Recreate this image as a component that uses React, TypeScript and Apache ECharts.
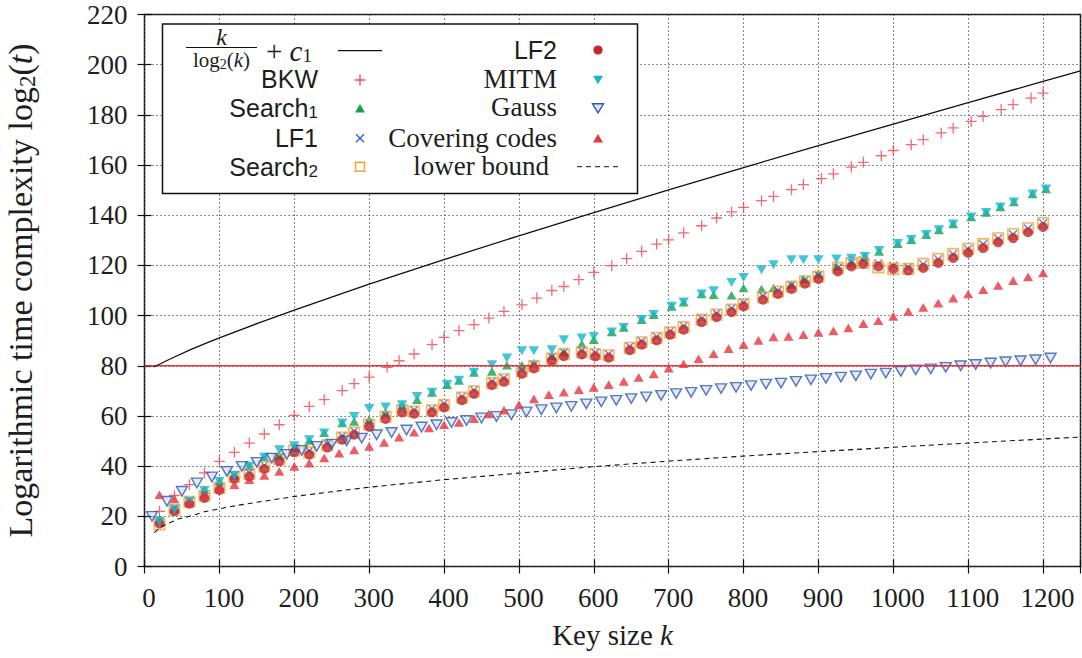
import React, { useEffect, useRef } from "react";
import * as echarts from "echarts";

// ---------------- data ----------------
const K_GRID = [20, 40, 60, 80, 100, 120, 140, 160, 180, 200,
  220, 240, 260, 280, 300, 320, 340, 360, 380, 400,
  420, 440, 460, 480, 500, 520, 540, 560, 580, 600,
  620, 640, 660, 680, 700, 720, 740, 760, 780, 800,
  820, 840, 860, 880, 900, 920, 940, 960, 980, 1000,
  1020, 1040, 1060, 1080, 1100, 1120, 1140, 1160, 1180, 1200];

const K_BKW = [20, 40, 60, 80, 100, 120, 140, 160, 180, 200,
  220, 240, 264, 280, 300, 324, 340, 360, 384, 400,
  420, 440, 460, 480, 504, 524, 544, 560, 580, 600,
  624, 644, 664, 684, 700, 720, 744, 764, 784, 800,
  824, 840, 864, 880, 904, 920, 944, 960, 984, 1000,
  1024, 1040, 1064, 1080, 1104, 1120, 1144, 1160, 1184, 1200];

const K_LF = [20, 40, 60, 80, 100, 120, 140, 160, 180, 200,
  220, 244, 264, 280, 300, 322, 344, 360, 384, 400,
  424, 440, 464, 480, 504, 520, 544, 560, 584, 602,
  620, 648, 664, 684, 702, 720, 744, 764, 784, 800,
  826, 846, 864, 882, 900, 926, 944, 960, 980, 1000,
  1020, 1040, 1060, 1080, 1100, 1120, 1140, 1160, 1180, 1200];

const K_MITM = [20, 40, 60, 80, 100, 120, 140, 160, 180, 200,
  220, 240, 264, 280, 300, 322, 344, 364, 384, 404,
  420, 440, 464, 484, 504, 520, 544, 560, 584, 600,
  624, 640, 664, 680, 704, 720, 744, 760, 784, 800,
  824, 840, 864, 880, 900, 924, 944, 962, 981, 1006,
  1024, 1044, 1061, 1080, 1104, 1124, 1143, 1161, 1186, 1204];

const K_GAUSS = [10, 30, 50, 70, 90, 110, 130, 150, 170, 190,
  210, 230, 250, 270, 290, 310, 330, 350, 370, 390,
  410, 430, 450, 470, 490, 510, 530, 550, 570, 590,
  610, 630, 650, 670, 690, 710, 730, 750, 770, 790,
  810, 830, 850, 870, 890, 910, 930, 950, 970, 990,
  1010, 1030, 1050, 1070, 1090, 1110, 1130, 1150, 1170, 1190, 1210];

const BKW = [22.0, 28.3, 32.6, 37.3, 41.9, 45.5, 49.2, 52.8, 56.5, 60.2,
  63.8, 66.5, 70.1, 72.9, 75.5, 79.4, 82.0, 84.7, 88.4, 91.3,
  94.0, 96.4, 99.0, 101.7, 104.3, 107.0, 110.0, 111.6, 114.3, 117.2,
  119.9, 122.7, 125.6, 128.5, 130.2, 133.0, 135.8, 138.9, 141.3, 143.1,
  145.8, 147.5, 150.2, 152.2, 154.6, 156.5, 159.2, 161.1, 163.7, 165.8,
  168.1, 170.1, 172.8, 174.8, 177.4, 179.4, 182.1, 184.1, 186.7, 188.7];

const SEARCH1 = [18.9, 23.0, 25.9, 30.5, 33.9, 36.3, 40.0, 43.5, 44.4, 47.4,
  50.3, 53.3, 57.2, 57.8, 58.5, 61.4, 64.3, 66.5, 69.4, 72.5,
  74.2, 77.4, 77.8, 80.2, 80.2, 81.1, 84.0, 85.3, 88.7, 90.4,
  93.5, 95.3, 98.4, 100.4, 103.7, 105.4, 108.6, 108.3, 108.1, 111.0,
  110.6, 111.0, 112.3, 114.6, 116.7, 119.6, 121.0, 123.6, 125.6, 128.7,
  130.3, 132.3, 134.2, 136.5, 139.3, 141.1, 143.3, 145.3, 148.5, 150.5];

const LF1 = [17.6, 23.3, 26.4, 28.8, 32.0, 36.4, 37.4, 40.4, 43.4, 47.0,
  46.1, 48.9, 52.0, 54.0, 57.2, 60.3, 62.9, 62.4, 62.9, 64.9,
  67.8, 70.3, 73.8, 75.1, 78.3, 80.4, 83.5, 85.3, 86.0, 85.2,
  84.7, 87.7, 89.9, 91.6, 93.9, 95.9, 98.9, 100.9, 102.9, 105.2,
  107.8, 110.1, 112.1, 114.2, 116.1, 119.1, 121.1, 122.0, 120.8, 119.9,
  119.3, 120.5, 122.5, 124.5, 126.5, 128.4, 130.7, 132.4, 134.7, 136.8];

const SEARCH2 = [16.8, 22.6, 25.8, 28.2, 31.4, 35.8, 36.9, 39.9, 42.8, 46.3,
  45.5, 48.3, 51.4, 53.4, 56.6, 59.7, 62.3, 61.8, 62.3, 64.3,
  67.3, 69.8, 73.2, 74.6, 77.8, 79.9, 82.9, 84.8, 85.4, 84.7,
  84.2, 87.2, 89.4, 91.1, 93.3, 95.4, 98.4, 100.4, 102.4, 104.6,
  107.3, 109.6, 111.6, 113.7, 115.6, 119.0, 121.0, 121.0, 119.2, 118.6,
  118.6, 120.6, 122.6, 124.6, 126.6, 128.5, 130.8, 132.5, 134.8, 136.9];

const LF2 = [17.1, 22.1, 25.0, 27.3, 30.5, 34.9, 35.9, 38.9, 41.9, 45.5,
  44.6, 47.4, 50.5, 52.5, 55.7, 58.8, 61.4, 60.9, 61.4, 63.4,
  66.3, 68.8, 72.3, 73.6, 76.8, 78.9, 82.0, 83.8, 84.5, 83.7,
  83.2, 86.2, 88.4, 90.1, 92.4, 94.4, 97.4, 99.4, 101.4, 103.7,
  106.3, 108.6, 110.6, 112.7, 114.6, 117.6, 119.6, 120.7, 119.6, 118.7,
  118.0, 119.0, 121.0, 123.0, 125.0, 126.9, 129.2, 130.9, 133.2, 135.3];

const MITM = [18.0, 22.6, 25.9, 30.3, 33.9, 36.3, 40.0, 43.5, 46.5, 48.1,
  50.5, 53.2, 57.2, 59.8, 63.0, 63.6, 64.5, 67.8, 69.4, 72.5,
  74.2, 77.4, 80.4, 83.1, 86.0, 86.0, 86.4, 90.4, 91.1, 91.7,
  93.5, 95.3, 98.4, 100.4, 103.7, 105.4, 108.6, 109.9, 113.2, 115.2,
  118.3, 120.3, 122.3, 122.3, 122.3, 122.6, 122.9, 123.6, 125.9, 128.7,
  130.3, 132.3, 134.2, 136.5, 139.3, 141.1, 143.3, 145.3, 148.5, 150.5];

const GAUSS = [20.0, 26.0, 30.0, 33.3, 35.7, 37.9, 39.9, 41.5, 43.2, 44.7,
  46.3, 47.9, 48.8, 50.1, 51.2, 52.5, 53.4, 54.4, 55.6, 56.5,
  57.4, 58.2, 59.2, 59.8, 60.5, 61.6, 62.5, 63.2, 63.8, 64.8,
  65.6, 66.2, 66.9, 67.6, 68.2, 68.9, 69.4, 70.2, 70.9, 71.4,
  72.1, 72.7, 73.1, 73.8, 74.4, 75.0, 75.5, 76.0, 76.7, 77.1,
  77.8, 78.4, 78.8, 79.4, 80.0, 80.5, 81.1, 81.6, 82.0, 82.4,
  83.1];

const COVERING = [28.6, 26.9, 25.5, 28.5, 31.0, 32.6, 34.6, 36.3, 37.9, 39.9,
  41.2, 43.3, 45.2, 46.5, 47.9, 49.5, 51.6, 53.5, 55.2, 56.5,
  57.4, 58.9, 60.8, 62.3, 64.5, 66.8, 68.5, 69.5, 70.5, 71.4,
  72.5, 73.8, 75.4, 76.8, 79.1, 80.8, 82.8, 84.8, 86.8, 88.4,
  90.1, 91.5, 91.7, 92.4, 93.3, 93.9, 95.1, 96.8, 98.0, 99.7,
  101.7, 103.3, 105.0, 107.0, 108.6, 110.3, 112.0, 113.9, 115.4, 117.0];

// k/log2(k) + c1 curve
const UPPER_K = [12, 20, 30, 40, 60, 80, 100, 150, 200, 250, 300, 400, 500, 600, 700, 800, 900, 1000, 1100, 1200, 1250];
const UPPER_Y = [79.5, 80.6, 82.1, 83.5, 86.2, 88.7, 91.1, 96.8, 102.2, 107.4, 112.5, 122.3, 131.8, 141.0, 150.1, 159.0, 167.7, 176.3, 184.9, 193.3, 197.5];

// lower bound curve
const LOWER_K = [13, 20, 30, 45, 60, 80, 100, 125, 150, 200, 250, 300, 400, 500, 600, 700, 800, 900, 1000, 1100, 1200, 1250];
const LOWER_Y = [13.5, 15.3, 17.0, 18.9, 20.0, 21.8, 23.0, 24.4, 25.6, 27.9, 29.8, 31.6, 34.6, 37.2, 39.8, 42.0, 44.0, 45.8, 47.5, 49.2, 50.8, 51.6];

// horizontal reference line at 80
const REF_K = [0, 1250];
const REF_Y = [80, 80];

const X_MIN = 0, X_MAX = 1250, X_STEP = 100;
const Y_MIN = 0, Y_MAX = 220, Y_STEP = 20;

// ---------------- styles ----------------
const SERIF = '"Liberation Serif", "Times New Roman", serif';
const SANS = '"Liberation Sans", Arial, sans-serif';
const TEXT = "#1e1e1e";

const C_BKW = "#f2434b";
const C_GREEN = "#17a24a";
const C_BLUE_X = "#2f5fc0";
const C_ORANGE = "#f5a43a";
const C_LF2 = "#c1272d";
const C_CYAN = "#17b6cc";
const C_GAUSS = "#2a58b5";
const C_CC = "#e9333c";
const C_REF = "#e9333c";

const PLUS = "path://M0,5L10,5M5,0L5,10";
const CROSS = "path://M0,0L10,10M10,0L0,10";
const SQUARE = "path://M0,0L10,0L10,10L0,10Z";
const TRI_DOWN = "path://M0,0L10,0L5,8.66Z";
const TRI_UP = "path://M5,0L10,8.66L0,8.66Z";

const zip = (xs: number[], ys: number[]) => xs.map((x, i) => [x, ys[i]]);

function txt(text: string, x: number, y: number, o: any = {}) {
  return {
    type: "text",
    z: 102,
    silent: true,
    style: {
      text,
      x,
      y,
      fill: TEXT,
      fontFamily: o.family || SERIF,
      fontSize: o.size || 27,
      fontStyle: o.italic ? "italic" : "normal",
      align: o.align || "right",
      textAlign: o.align || "right",
      verticalAlign: "middle",
      textVerticalAlign: "middle",
      rich: o.rich,
    },
  };
}

function seg(x1: number, y1: number, x2: number, y2: number, stroke: string, lw: number, dash?: number[]) {
  return {
    type: "line",
    z: 102,
    silent: true,
    shape: { x1, y1, x2, y2 },
    style: { stroke, lineWidth: lw, lineDash: dash },
  };
}

function poly(points: number[][], fill: string, stroke?: string, lw?: number) {
  return {
    type: "polygon",
    z: 102,
    silent: true,
    shape: { points },
    style: { fill, stroke: stroke || null, lineWidth: lw || 0 },
  };
}

const LX = 360;
const RX = 598;
const ROWS = [50, 80, 108.3, 138.3, 166.7];

const subRichSans = {
  a: { fontFamily: SANS, fontSize: 25, lineHeight: 27, fill: TEXT },
  s: { fontFamily: SANS, fontSize: 17, lineHeight: 13, verticalAlign: "bottom", fill: TEXT },
};

const legendElements: any[] = [
  {
    type: "rect",
    z: 100,
    silent: true,
    shape: { x: 162.5, y: 24, width: 475, height: 169.5 },
    style: { fill: "#ffffff", stroke: "#111", lineWidth: 1.5 },
  },
  // fraction k / log2(k) + c1
  txt("k", 221.5, 37, { italic: true, size: 24, align: "center" }),
  seg(186, 47.5, 257, 47.5, "#111", 1),
  txt("{a|log}{s|2}{a|(}{i|k}{a|)}", 221.5, 60, {
    align: "center",
    rich: {
      a: { fontFamily: SERIF, fontSize: 21, lineHeight: 22, fill: TEXT },
      i: { fontFamily: SERIF, fontSize: 21, lineHeight: 22, fontStyle: "italic", fill: TEXT },
      s: { fontFamily: SERIF, fontSize: 14, lineHeight: 10, verticalAlign: "bottom", fill: TEXT },
    },
  }),
  txt("{a|+ }{i|c}{s|1}", 266, 51, {
    align: "left",
    rich: {
      a: { fontFamily: SERIF, fontSize: 29, lineHeight: 27, fill: TEXT },
      i: { fontFamily: SERIF, fontSize: 29, lineHeight: 27, fontStyle: "italic", fill: TEXT },
      s: { fontFamily: SERIF, fontSize: 19, lineHeight: 13, verticalAlign: "bottom", fill: TEXT },
    },
  }),
  seg(338, 50.7, 382, 50.7, "#111", 1.2),
  // left column labels
  txt("BKW", 318, 79, { family: SANS, size: 25 }),
  txt("{a|Search}{s|1}", 318, 107.5, { family: SANS, size: 25, rich: subRichSans }),
  txt("LF1", 318, 137.5, { family: SANS, size: 25 }),
  txt("{a|Search}{s|2}", 318, 166.5, { family: SANS, size: 25, rich: subRichSans }),
  // left column markers
  seg(LX - 5.5, ROWS[1], LX + 5.5, ROWS[1], C_BKW, 1.3),
  seg(LX, ROWS[1] - 5.5, LX, ROWS[1] + 5.5, C_BKW, 1.3),
  poly([[LX - 5, ROWS[2] + 4.3], [LX + 5, ROWS[2] + 4.3], [LX, ROWS[2] - 4.3]], C_GREEN),
  seg(LX - 4, ROWS[3] - 4, LX + 4, ROWS[3] + 4, C_BLUE_X, 1.3),
  seg(LX + 4, ROWS[3] - 4, LX - 4, ROWS[3] + 4, C_BLUE_X, 1.3),
  {
    type: "rect",
    z: 102,
    silent: true,
    shape: { x: LX - 4.5, y: ROWS[4] - 4.5, width: 9, height: 9 },
    style: { fill: "none", stroke: C_ORANGE, lineWidth: 1.5 },
  },
  // right column labels
  txt("LF2", 557, 50.3, { family: SANS, size: 25 }),
  txt("MITM", 557, 78.5, {}),
  txt("Gauss", 557, 107.3, {}),
  txt("Covering codes", 557, 137.5, {}),
  txt("lower bound", 549, 166, {}),
  // right column markers
  { type: "circle", z: 102, silent: true, shape: { cx: RX, cy: ROWS[0], r: 4.6 }, style: { fill: C_LF2 } },
  poly([[RX - 5, ROWS[1] - 4.3], [RX + 5, ROWS[1] - 4.3], [RX, ROWS[1] + 4.3]], C_CYAN),
  poly([[RX - 5.5, ROWS[2] - 4.5], [RX + 5.5, ROWS[2] - 4.5], [RX, ROWS[2] + 4.5]], "rgba(120,150,220,0.25)", C_GAUSS, 1.4),
  poly([[RX - 5, ROWS[3] + 4.3], [RX + 5, ROWS[3] + 4.3], [RX, ROWS[3] - 4.3]], C_CC),
  seg(577, ROWS[4], 620, ROWS[4], "#111", 1, [5, 4]),
];

function scatter(name: string, data: number[][], symbol: string, size: any, itemStyle: any) {
  return {
    type: "scatter",
    name,
    data,
    symbol,
    symbolSize: size,
    itemStyle,
    silent: true,
  };
}

export default function App() {
  const ref = useRef<HTMLDivElement>(null);

  useEffect(() => {
    document.body.style.margin = "0";
    const chart = echarts.init(ref.current as HTMLDivElement, null, { renderer: "svg" });

    const tickStyle = { color: "#111", width: 1.2 };
    const gridLine = { show: true, lineStyle: { color: "#444", width: 1.1, type: [1.2, 2.8] } };

    const option: any = {
      animation: false,
      backgroundColor: "#ffffff",
      grid: {
        left: 144.5,
        right: 1.5,
        top: 14.5,
        bottom: 91.5,
        show: true,
        borderColor: "#111",
        borderWidth: 1.5,
        backgroundColor: "transparent",
        containLabel: false,
        outerBoundsMode: "none",
      },
      xAxis: [
        {
          type: "value",
          min: X_MIN,
          max: X_MAX,
          interval: X_STEP,
          position: "bottom",
          axisLine: { show: false },
          axisTick: { show: true, inside: true, length: 7, lineStyle: tickStyle },
          axisLabel: {
            color: TEXT,
            fontFamily: SERIF,
            fontSize: 27,
            margin: 18,
            padding: [0, 0, 0, 9],
            formatter: (v: number) => (v % 100 === 0 ? String(v) : ""),
          },
          splitLine: gridLine,
          name: "Key size {i|k}",
          nameLocation: "middle",
          nameGap: 54,
          nameTextStyle: {
            color: TEXT,
            fontFamily: SERIF,
            fontSize: 29,
            rich: {
              i: { fontFamily: SERIF, fontSize: 29, fontStyle: "italic", color: TEXT },
            },
          },
        },
        {
          type: "value",
          min: X_MIN,
          max: X_MAX,
          interval: X_STEP,
          position: "top",
          axisLine: { show: false },
          axisTick: { show: true, inside: true, length: 7, lineStyle: tickStyle },
          axisLabel: { show: false },
          splitLine: { show: false },
        },
      ],
      yAxis: [
        {
          type: "value",
          min: Y_MIN,
          max: Y_MAX,
          interval: Y_STEP,
          position: "left",
          axisLine: { show: false },
          axisTick: { show: true, inside: true, length: 7, lineStyle: tickStyle },
          axisLabel: { color: TEXT, fontFamily: SERIF, fontSize: 27, margin: 17 },
          splitLine: gridLine,
          name: "{a|Logarithmic time complexity log}{s|2}{a|(}{i|t}{a|)}",
          nameLocation: "middle",
          nameGap: 106,
          nameTextStyle: {
            color: TEXT,
            fontFamily: SERIF,
            fontSize: 34,
            rich: {
              a: { fontFamily: SERIF, fontSize: 34, lineHeight: 36, color: TEXT },
              i: { fontFamily: SERIF, fontSize: 34, lineHeight: 36, fontStyle: "italic", color: TEXT },
              s: { fontFamily: SERIF, fontSize: 23, lineHeight: 18, verticalAlign: "bottom", color: TEXT },
            },
          },
        },
        {
          type: "value",
          min: Y_MIN,
          max: Y_MAX,
          interval: Y_STEP,
          position: "right",
          axisLine: { show: false },
          axisTick: { show: true, inside: true, length: 7, lineStyle: tickStyle },
          axisLabel: { show: false },
          splitLine: { show: false },
        },
      ],
      series: [
        {
          type: "line",
          name: "threshold",
          data: zip(REF_K, REF_Y),
          symbol: "none",
          lineStyle: { color: C_REF, width: 1.3 },
          silent: true,
        },
        {
          type: "line",
          name: "k/log2(k)+c1",
          data: zip(UPPER_K, UPPER_Y),
          symbol: "none",
          smooth: false,
          lineStyle: { color: "#111", width: 1.3 },
          silent: true,
        },
        scatter("BKW", zip(K_BKW, BKW), PLUS, 11, { color: "transparent", borderColor: C_BKW, borderWidth: 1.3 }),
        scatter("Search1", zip(K_MITM, SEARCH1), TRI_UP, [10, 8.7], { color: C_GREEN }),
        scatter("LF1", zip(K_LF, LF1), CROSS, 8, { color: "transparent", borderColor: C_BLUE_X, borderWidth: 1.3 }),
        scatter("Search2", zip(K_LF, SEARCH2), SQUARE, 10.5, { color: "transparent", borderColor: C_ORANGE, borderWidth: 1.6 }),
        scatter("LF2", zip(K_LF, LF2), "circle", 10, { color: C_LF2 }),
        scatter("MITM", zip(K_MITM, MITM), TRI_DOWN, [10.5, 9], { color: C_CYAN }),
        scatter("Gauss", zip(K_GAUSS, GAUSS), TRI_DOWN, [11, 9.5], { color: "rgba(120,150,220,0.25)", borderColor: C_GAUSS, borderWidth: 1.4 }),
        scatter("Covering codes", zip(K_GRID, COVERING), TRI_UP, [10, 8.7], { color: C_CC }),
        {
          type: "line",
          name: "lower bound",
          data: zip(LOWER_K, LOWER_Y),
          symbol: "none",
          smooth: false,
          lineStyle: { color: "#111", width: 1.1, type: [5, 4] },
          silent: true,
        },
      ],
      graphic: { elements: legendElements },
    };

    chart.setOption(option);
    return () => chart.dispose();
  }, []);

  return <div ref={ref} style={{ width: 1082, height: 658 }} />;
}
